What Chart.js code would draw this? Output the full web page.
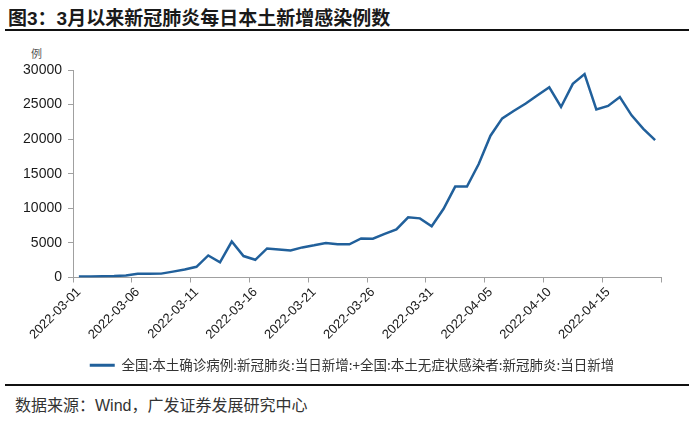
<!DOCTYPE html>
<html>
<head>
  <meta charset="utf-8">
  <title>3月以来新冠肺炎每日本土新增感染例数</title>
  <script src="https://cdn.jsdelivr.net/npm/chart.js@4/dist/chart.umd.min.js"></script>
  <style>
    body { margin: 0; width: 700px; height: 422px; position: relative; background: #fff; overflow: hidden; }
    .rule { position: absolute; left: 5px; width: 684px; height: 2px; background: #111; }
    #title { position: absolute; left: 8px; top: 3px; font: bold 19px "Liberation Sans", "Noto Sans CJK SC", sans-serif; color: #1a1a1a; white-space: nowrap; }
    #unit { position: absolute; left: 31px; top: 45px; font: 11px "Noto Sans CJK SC", sans-serif; color: #555; }
    #src { position: absolute; left: 15px; top: 392px; font: 16px "Liberation Sans", "Noto Sans CJK SC", sans-serif; color: #333; white-space: nowrap; }
    #box { position: absolute; left: 0; top: 0; }
  </style>
</head>
<body>
  <div id="title">图3：3月以来新冠肺炎每日本土新增感染例数</div>
  <div class="rule" style="top:29px"></div>
  <div id="unit">例</div>
  <canvas id="box" width="700" height="382"></canvas>
  <div class="rule" style="top:384px"></div>
  <div id="src">数据来源：Wind，广发证券发展研究中心</div>
  <script>
    // daily dates, 2022-03-01 .. 2022-04-19
    var dates = [
      '2022-03-01','2022-03-02','2022-03-03','2022-03-04','2022-03-05','2022-03-06','2022-03-07','2022-03-08','2022-03-09','2022-03-10',
      '2022-03-11','2022-03-12','2022-03-13','2022-03-14','2022-03-15','2022-03-16','2022-03-17','2022-03-18','2022-03-19','2022-03-20',
      '2022-03-21','2022-03-22','2022-03-23','2022-03-24','2022-03-25','2022-03-26','2022-03-27','2022-03-28','2022-03-29','2022-03-30',
      '2022-03-31','2022-04-01','2022-04-02','2022-04-03','2022-04-04','2022-04-05','2022-04-06','2022-04-07','2022-04-08','2022-04-09',
      '2022-04-10','2022-04-11','2022-04-12','2022-04-13','2022-04-14','2022-04-15','2022-04-16','2022-04-17','2022-04-18','2022-04-19'
    ];

    // confirmed + asymptomatic, new per day
    var cases = [
      150, 160, 190, 210, 300, 530, 530, 560, 850, 1150,
      1550, 3190, 2200, 5200, 3100, 2560, 4200, 4050, 3900, 4350,
      4650, 5000, 4800, 4800, 5650, 5600, 6300, 6950, 8700, 8550,
      7400, 9900, 13150, 13150, 16400, 20500, 23000, 24100, 25150, 26350,
      27500, 24650, 28000, 29400, 24300, 24800, 26100, 23450, 21500, 19850
    ];

    var seriesName = '全国:本土确诊病例:新冠肺炎:当日新增:+全国:本土无症状感染者:新冠肺炎:当日新增';
    var yTicks = [0, 5000, 10000, 15000, 20000, 25000, 30000];

    var lineColor = '#21609b';
    var axisColor = '#a0a0a0';

    var ctx = document.getElementById('box').getContext('2d');
    var chart = new Chart(ctx, {
      type: 'line',
      data: {
        labels: dates,
        datasets: [{
          label: seriesName,
          data: cases,
          borderColor: lineColor,
          backgroundColor: lineColor,
          borderWidth: 2.5,
          pointRadius: 0,
          tension: 0,
          fill: false
        }]
      },
      options: {
        responsive: false,
        animation: false,
        layout: { padding: { left: 10, right: 6, top: 70, bottom: 0 } },
        plugins: {
          tooltip: { enabled: false },
          legend: {
            position: 'bottom',
            labels: {
              boxWidth: 25,
              boxHeight: 3,
              color: '#333',
              font: { family: '"Noto Sans CJK SC", sans-serif', size: 13.5 },
              generateLabels: function(c) {
                var items = Chart.defaults.plugins.legend.labels.generateLabels(c);
                items.forEach(function(it) { it.lineWidth = 0; });
                return items;
              }
            }
          }
        },
        scales: {
          x: {
            offset: true,
            grid: {
              offset: true,
              drawOnChartArea: false,
              tickLength: 5,
              color: function(c) {
                return (c.index === undefined || c.index % 5 === 0) ? axisColor : 'rgba(0,0,0,0)';
              }
            },
            border: { color: axisColor },
            ticks: {
              autoSkip: false,
              maxRotation: 45,
              minRotation: 45,
              padding: 2,
              color: '#1a1a1a',
              font: { family: '"Liberation Sans", Arial, sans-serif', size: 13 },
              callback: function(v, i) { return i % 5 === 0 ? dates[i] : ''; }
            },
            afterFit: function(s) { s.height = 71; s.paddingLeft = 0; s.paddingRight = 0; }
          },
          y: {
            min: 0,
            max: 30000,
            grid: { drawOnChartArea: false, tickLength: 5, color: axisColor },
            border: { color: axisColor },
            afterBuildTicks: function(s) { s.ticks = yTicks.map(function(v) { return { value: v }; }); },
            ticks: {
              padding: 6,
              color: '#1a1a1a',
              font: { family: '"Liberation Sans", Arial, sans-serif', size: 14 },
              callback: function(v) { return String(v); }
            },
            afterFit: function(s) { s.width = 63; }
          },
          // empty right-hand spacer so the legend centres like the original
          pad: {
            type: 'linear',
            position: 'right',
            grid: { display: false },
            border: { display: false },
            ticks: { display: false },
            afterFit: function(s) { s.width = 33; }
          }
        }
      }
    });
  </script>
</body>
</html>
